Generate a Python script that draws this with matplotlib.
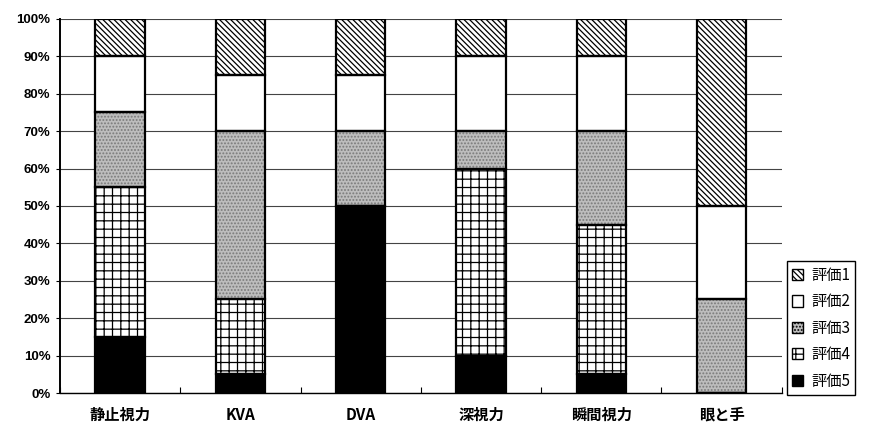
import numpy as np
import matplotlib.pyplot as plt
from matplotlib.patches import Patch

plt.rcParams['font.family'] = ['Noto Sans CJK JP', 'DejaVu Sans']

categories = ['静止視力', 'KVA', 'DVA', '深視力', '瞬間視力', '眼と手']
series_names = ['評価5', '評価4', '評価3', '評価2', '評価1']
# percentage of each rating, bottom (評価5) to top (評価1)
eval5 = [15, 5, 50, 10, 5, 0]
eval4 = [40, 20, 0, 50, 40, 0]
eval3 = [20, 45, 20, 10, 25, 25]
eval2 = [15, 15, 15, 20, 20, 25]
eval1 = [10, 15, 15, 10, 10, 50]
yticks = [0, 10, 20, 30, 40, 50, 60, 70, 80, 90, 100]

styles = {
    '評価5': dict(facecolor='black', hatch=None, hcolor='black'),
    '評価4': dict(facecolor='white', hatch='++', hcolor='black'),
    '評価3': dict(facecolor='#bdbdbd', hatch='.....', hcolor='#7a7a7a'),
    '評価2': dict(facecolor='white', hatch=None, hcolor='black'),
    '評価1': dict(facecolor='white', hatch='\\\\\\\\\\\\', hcolor='black'),
}

fig = plt.figure(figsize=(8.77, 4.30), dpi=100)
ax = fig.add_axes([0.0684, 0.086, 0.823, 0.870])

x = np.arange(len(categories))
width = 0.41
bottom = np.zeros(len(categories))
plt.rcParams['hatch.linewidth'] = 0.9
for name, vals in zip(series_names, [eval5, eval4, eval3, eval2, eval1]):
    st = styles[name]
    vals = np.array(vals, dtype=float)
    # hatch pass uses its own colour, outline drawn on top
    ax.bar(x, vals, width, bottom=bottom, color=st['facecolor'],
           edgecolor=st['hcolor'], hatch=st['hatch'], linewidth=0, zorder=2)
    ax.bar(x, vals, width, bottom=bottom, fill=False,
           edgecolor='black', linewidth=1.6, zorder=3)
    bottom += vals

ax.set_xlim(-0.5, len(categories) - 0.5)
ax.set_ylim(0, 100)
ax.set_yticks(yticks)
ax.set_yticklabels([f'{v}%' for v in yticks], fontsize=9.5, fontweight='bold',
                   family=['Liberation Sans', 'DejaVu Sans'])
ax.set_xticks(x)
ax.set_xticklabels(categories, fontsize=11, fontweight='bold')
ax.set_xticks(np.arange(-0.5, len(categories)), minor=True)
ax.tick_params(axis='x', which='major', length=0, pad=10)
ax.tick_params(axis='x', which='minor', length=4, direction='in', width=0.8)
ax.tick_params(axis='y', length=3, width=0.8, pad=4)

ax.yaxis.grid(True, color='#444444', linewidth=0.8, zorder=0)
ax.set_axisbelow(True)
for side in ['top', 'right']:
    ax.spines[side].set_visible(False)
ax.spines['left'].set_linewidth(1.4)
ax.spines['bottom'].set_linewidth(1.0)

handles = []
for name in series_names[::-1]:
    st = styles[name]
    handles.append(Patch(facecolor=st['facecolor'], edgecolor='black',
                         hatch=st['hatch'], linewidth=1.0, label=name))
leg = fig.legend(handles=handles, loc='upper left',
                 bbox_to_anchor=(0.897, 0.392), frameon=True, fancybox=False,
                 edgecolor='black', fontsize=11, handlelength=0.75,
                 handleheight=0.75, handletextpad=0.5, labelspacing=0.62,
                 borderpad=0.35, borderaxespad=0, framealpha=1)
leg.get_frame().set_linewidth(1.0)

fig.savefig('out.png', dpi=100)
